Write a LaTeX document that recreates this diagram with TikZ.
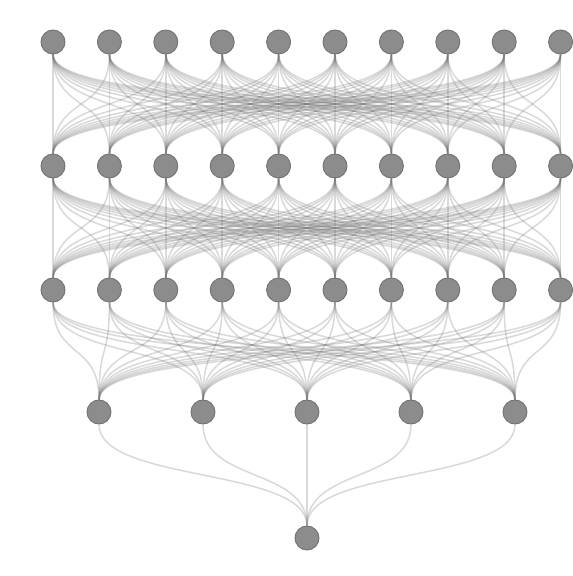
\documentclass[tikz,border=0pt]{standalone}
\usetikzlibrary{backgrounds}
\definecolor{nodegray}{RGB}{140,140,140}
\definecolor{nodeedge}{RGB}{115,115,115}
\definecolor{edgegray}{RGB}{120,120,120}
\begin{document}
\begin{tikzpicture}[x=0.03cm,y=0.03cm,
  neuron/.style={circle,fill=nodegray,draw=nodeedge,line width=0.8pt,minimum size=0.72cm,inner sep=0pt},
  conn/.style={draw=edgegray,line width=1.3pt,opacity=0.28,out=-90,in=90,distance=1.75cm}]
\useasboundingbox (0,0) rectangle (573,576);
\foreach \i in {0,...,9} {
  \node[neuron] (A\i) at ({53+56.4*\i},534) {};
  \node[neuron] (B\i) at ({53+56.4*\i},410) {};
  \node[neuron] (C\i) at ({53+56.4*\i},286) {};
}
\foreach \j in {0,...,4} {
  \node[neuron] (D\j) at ({99+104*\j},164) {};
}
\node[neuron] (E) at (307,38) {};
\begin{scope}[on background layer]
\foreach \i in {0,...,9} {
  \foreach \j in {0,...,9} {
    \draw[conn] (A\i) to (B\j);
    \draw[conn] (B\i) to (C\j);
  }
  \foreach \j in {0,...,4} {
    \draw[conn] (C\i) to (D\j);
  }
}
\foreach \j in {0,...,4} {
  \draw[conn] (D\j) to (E);
}
\end{scope}
\end{tikzpicture}
\end{document}
